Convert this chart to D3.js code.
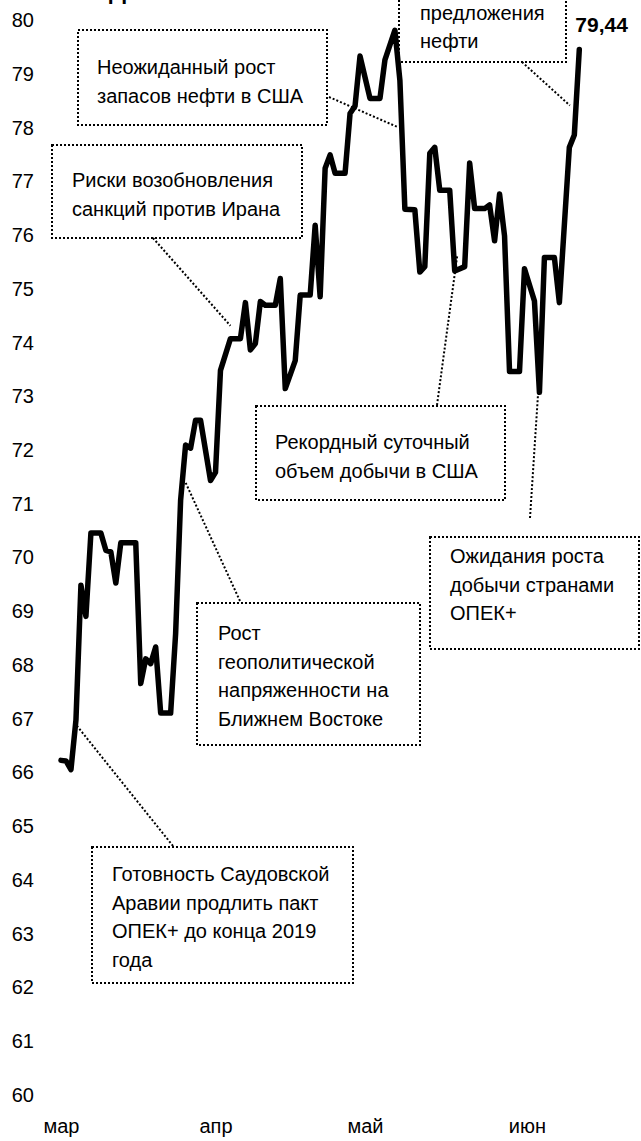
<!DOCTYPE html>
<html>
<head>
<meta charset="utf-8">
<script src="https://cdn.jsdelivr.net/npm/d3@7/dist/d3.min.js"></script>
<style>
  body { margin: 0; background: #fff; }
  svg { display: block; font-family: "Liberation Sans", Arial, sans-serif; }
</style>
</head>
<body>
<svg id="chart" width="641" height="1141"></svg>
<script>
//***************************************************************************
// Data: corners of the price line (day counted from 1 March, price $/bbl)

var days = [0, 1, 2, 3, 4, 5, 6, 8, 9, 10, 11, 12, 15, 16, 17, 18, 19, 20, 22, 23,
  24, 25, 26, 27, 28, 30, 31, 32, 34, 36, 37, 38, 39, 40, 41, 43, 44, 45, 47, 48,
  50, 51, 52, 53, 54, 55, 57, 58, 59, 60, 62, 64, 65, 67, 68, 69, 71, 72, 73, 74,
  75, 76, 78, 79, 81, 82, 83, 85, 86, 87, 88, 89, 90, 92, 93, 95, 96, 97, 99, 100,
  102, 103, 104];

var prices = [66.21, 66.20, 66.04, 66.96, 69.47, 68.89, 70.44, 70.44, 70.12, 70.09,
  69.51, 70.26, 70.26, 67.64, 68.10, 68.01, 68.32, 67.09, 67.09, 68.57,
  71.05, 72.08, 72.02, 72.54, 72.54, 71.42, 71.57, 73.47, 74.06, 74.06,
  74.73, 73.85, 73.97, 74.75, 74.68, 74.68, 75.18, 73.13, 73.65, 74.87,
  74.87, 76.17, 74.84, 77.23, 77.48, 77.14, 77.14, 78.25, 78.39, 79.32,
  78.53, 78.53, 79.25, 79.80, 78.87, 76.47, 76.46, 75.30, 75.40, 77.51,
  77.62, 76.82, 76.82, 75.32, 75.40, 77.33, 76.48, 76.48, 76.55, 75.88,
  76.75, 75.97, 73.45, 73.45, 75.36, 74.76, 73.06, 75.57, 75.57, 74.73,
  77.62, 77.85, 79.44];

var yTicks = d3.range(60, 81);
var monthDays = [0, 31, 61, 93.5];
var monthNames = ["мар", "апр", "май", "июн"];

// annotation texts and the point (day, price) each one points to
var noteTexts = [
  ["Неожиданный рост", "запасов нефти в США"],
  ["Риски возобновления", "санкций против Ирана"],
  ["Рост", "предложения", "нефти"],
  ["Рекордный суточный", "объем добычи в США"],
  ["Ожидания роста", "добычи странами", "ОПЕК+"],
  ["Рост", "геополитической", "напряженности на", "Ближнем Востоке"],
  ["Готовность Саудовской", "Аравии продлить пакт", "ОПЕК+ до конца 2019", "года"]
];
var noteDays = [67.5, 34, 102.1, 79.5, 95.7, 24.9, 2.8];
var notePrices = [78.0, 74.3, 78.4, 75.6, 73.0, 71.4, 66.9];

//***************************************************************************
// Layout

var boxes = [
  {x: 78,  y: 30,  w: 249, h: 95,  tx: 19, ty: 44, lx: 329, ly: 97},
  {x: 52,  y: 145, w: 250, h: 93,  tx: 20, ty: 42, lx: 153, ly: 238},
  {x: 399, y: -60, w: 167, h: 122, tx: 21, ty: 51, lx: 522, ly: 62},
  {x: 256, y: 406, w: 249, h: 94,  tx: 19, ty: 43, lx: 437, ly: 405},
  {x: 430, y: 537, w: 209, h: 112, tx: 20, ty: 26, lx: 530, ly: 518},
  {x: 197, y: 603, w: 223, h: 142, tx: 21, ty: 37, lx: 240, ly: 601},
  {x: 92,  y: 847, w: 261, h: 136, tx: 20, ty: 34, lx: 173, ly: 846}
];
var lineGap = 28.7;

var svg = d3.select("#chart");

var x = d3.scaleLinear()
  .domain([0, 104])
  .range([61, 579.3]);

var y = d3.scaleLinear()
  .domain([60, 80])
  .range([1094, 19.5]);

// title, cut off by the top edge
svg.append("text")
  .attr("x", 109)
  .attr("y", -1.5)
  .attr("font-size", 24)
  .attr("font-weight", "bold")
  .text("Динамика");

// y axis labels
var yAxis = svg.append("g")
  .attr("transform", "translate(36,0)")
  .call(d3.axisLeft(y).tickValues(yTicks).tickSize(0).tickPadding(2));
yAxis.select(".domain").remove();
yAxis.selectAll("text")
  .attr("font-size", 20)
  .attr("font-family", "Liberation Sans, Arial, sans-serif")
  .attr("fill", "#000")
  .attr("dy", "0.36em");

// x axis labels
var xAxis = svg.append("g")
  .attr("transform", "translate(0,1115)")
  .call(d3.axisBottom(x).tickValues(monthDays)
    .tickFormat(function(d, i) { return monthNames[i]; })
    .tickSize(0).tickPadding(4));
xAxis.select(".domain").remove();
xAxis.selectAll("text")
  .attr("font-size", 20)
  .attr("font-family", "Liberation Sans, Arial, sans-serif")
  .attr("fill", "#000");

// annotation boxes
var notes = svg.append("g").attr("class", "notes");

boxes.forEach(function(b, i) {
  notes.append("rect")
    .attr("x", b.x)
    .attr("y", b.y)
    .attr("width", b.w)
    .attr("height", b.h)
    .attr("fill", "#fff")
    .attr("stroke", "#000")
    .attr("stroke-width", 2)
    .attr("stroke-dasharray", "2,2");

  notes.append("line")
    .attr("x1", b.lx)
    .attr("y1", b.ly)
    .attr("x2", x(noteDays[i]))
    .attr("y2", y(notePrices[i]))
    .attr("stroke", "#000")
    .attr("stroke-width", 2)
    .attr("stroke-dasharray", "2,2");

  var t = notes.append("text")
    .attr("font-size", 20)
    .attr("fill", "#000");
  noteTexts[i].forEach(function(s, j) {
    t.append("tspan")
      .attr("x", b.x + b.tx)
      .attr("y", b.y + b.ty + j * lineGap)
      .text(s);
  });
});

// price line
var line = d3.line()
  .x(function(d, i) { return x(days[i]); })
  .y(function(d) { return y(d); });

svg.append("path")
  .datum(prices)
  .attr("fill", "none")
  .attr("stroke", "#000")
  .attr("stroke-width", 5.5)
  .attr("stroke-linejoin", "round")
  .attr("stroke-linecap", "round")
  .attr("d", line);

// last value label
var last = prices.length - 1;
svg.append("text")
  .attr("x", x(days[last]) - 4)
  .attr("y", y(prices[last]) - 17.5)
  .attr("font-size", 21)
  .attr("font-weight", "bold")
  .text(d3.format(".2f")(prices[last]).replace(".", ","));
</script>
</body>
</html>
